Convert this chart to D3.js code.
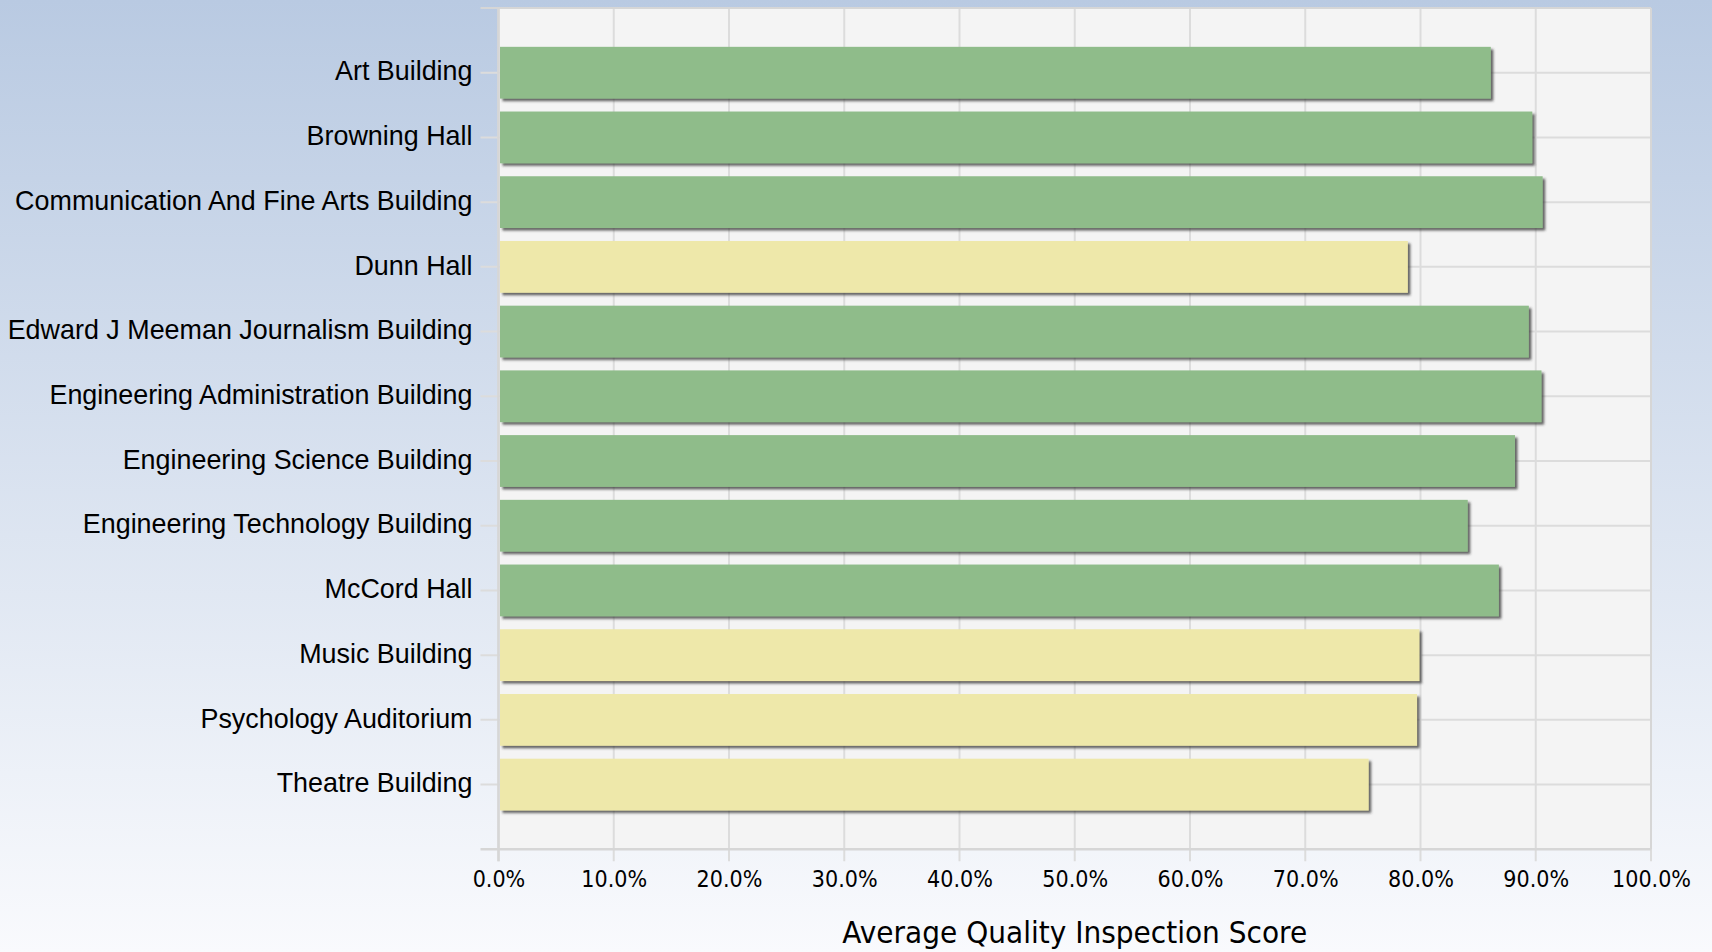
<!DOCTYPE html>
<html>
<head>
<meta charset="utf-8">
<script src="https://cdn.jsdelivr.net/npm/d3@7"></script>
<style>
  html, body { margin: 0; padding: 0; overflow: hidden; }
  svg { display: block; }
</style>
</head>
<body>
<svg id="chart" width="1712" height="952"></svg>
<script>
// ---- Data ----
const categories = [
  "Art Building",
  "Browning Hall",
  "Communication And Fine Arts Building",
  "Dunn Hall",
  "Edward J Meeman Journalism Building",
  "Engineering Administration Building",
  "Engineering Science Building",
  "Engineering Technology Building",
  "McCord Hall",
  "Music Building",
  "Psychology Auditorium",
  "Theatre Building"
];
const scores = [86.1, 89.7, 90.6, 78.9, 89.4, 90.5, 88.2, 84.1, 86.8, 79.9, 79.7, 75.5];
const ratings = ["good", "good", "good", "fair", "good", "good", "good", "good", "good", "fair", "fair", "fair"];
const xTicks = [0, 10, 20, 30, 40, 50, 60, 70, 80, 90, 100];
const axisTitle = "Average Quality Inspection Score";

// ---- Layout ----
const W = 1712, H = 952;
const plot = { left: 498.5, right: 1651, top: 8, bottom: 849.3 };
const ratingColor = d3.scaleOrdinal().domain(["good", "fair"]).range(["#8fbc8a", "#eee8aa"]);

const svg = d3.select("#chart");
const defs = svg.append("defs");
const grad = defs.append("linearGradient").attr("id", "bg").attr("x1", 0).attr("y1", 0).attr("x2", 0).attr("y2", 1);
grad.append("stop").attr("offset", "0%").attr("stop-color", "#b9cae2");
grad.append("stop").attr("offset", "100%").attr("stop-color", "#f9fafd");
const shadow = defs.append("filter").attr("id", "shadow")
  .attr("x", "-5%").attr("y", "-20%").attr("width", "110%").attr("height", "150%");
shadow.append("feDropShadow").attr("dx", 2.5).attr("dy", 2.5).attr("stdDeviation", 0.8)
  .attr("flood-color", "#333").attr("flood-opacity", 0.75);

svg.append("rect").attr("width", W).attr("height", H).attr("fill", "url(#bg)");

const x = d3.scaleLinear().domain([0, 100]).range([plot.left, plot.right]);
const y = d3.scalePoint().domain(categories).range([plot.top, plot.bottom]).padding(1);
const barH = y.step() * 0.8;

// plot background
svg.append("rect")
  .attr("x", x(0)).attr("y", plot.top)
  .attr("width", x(100) - x(0)).attr("height", plot.bottom - plot.top)
  .attr("fill", "#f4f4f4");

const gridColor = "#dcdcdc";
// vertical grid
svg.append("g").selectAll("line").data(xTicks).join("line")
  .attr("x1", d => x(d)).attr("x2", d => x(d))
  .attr("y1", plot.top).attr("y2", plot.bottom + 12)
  .attr("stroke", gridColor).attr("stroke-width", 2);
// horizontal grid (through category centers) + left stubs
svg.append("g").selectAll("line").data(categories).join("line")
  .attr("x1", x(0) - 18).attr("x2", x(100))
  .attr("y1", d => y(d)).attr("y2", d => y(d))
  .attr("stroke", gridColor).attr("stroke-width", 2);
// frame lines
svg.append("line").attr("x1", x(0) - 18).attr("x2", x(100)).attr("y1", plot.top).attr("y2", plot.top)
  .attr("stroke", "#d6d6d6").attr("stroke-width", 2);
svg.append("line").attr("x1", x(0) - 18).attr("x2", x(100)).attr("y1", plot.bottom).attr("y2", plot.bottom)
  .attr("stroke", "#d6d6d6").attr("stroke-width", 2.5);
svg.append("line").attr("x1", x(100)).attr("x2", x(100)).attr("y1", plot.top).attr("y2", plot.bottom)
  .attr("stroke", "#d6d6d6").attr("stroke-width", 2);

// bars
svg.append("g").selectAll("rect").data(categories).join("rect")
  .attr("x", x(0) + 1.5)
  .attr("y", d => y(d) - barH / 2)
  .attr("width", (d, i) => x(scores[i]) - x(0) - 1.5)
  .attr("height", barH)
  .attr("fill", (d, i) => ratingColor(ratings[i]))
  .attr("filter", "url(#shadow)");

// left axis line
svg.append("line").attr("x1", x(0)).attr("x2", x(0)).attr("y1", plot.top).attr("y2", plot.bottom + 12)
  .attr("stroke", "#d6d6d6").attr("stroke-width", 2.5);

// y axis labels
const yAxis = d3.axisLeft(y).tickSize(18).tickPadding(8);
const gy = svg.append("g").attr("transform", `translate(${x(0)},0)`).call(yAxis);
gy.select(".domain").remove();
gy.selectAll(".tick line").remove();
gy.selectAll(".tick text")
  .attr("font-family", "'Liberation Sans', Arial, sans-serif")
  .attr("font-size", 26.9).attr("fill", "#000").attr("dy", "0.27em");

// x axis labels
const xAxis = d3.axisBottom(x).tickValues(xTicks).tickSize(12).tickPadding(9.5)
  .tickFormat(d => d.toFixed(1) + "%");
const gx = svg.append("g").attr("transform", `translate(0,${plot.bottom})`).call(xAxis);
gx.select(".domain").remove();
gx.selectAll(".tick line").remove();
gx.selectAll(".tick text")
  .attr("font-family", "'DejaVu Sans', Verdana, sans-serif")
  .attr("font-size", 23).attr("fill", "#000")
  .each(function () {
    const len = this.getComputedTextLength();
    d3.select(this).attr("textLength", len * 0.9).attr("lengthAdjust", "spacingAndGlyphs");
  });

// axis title
const t = svg.append("text")
  .attr("x", (x(0) + x(100)) / 2).attr("y", 943)
  .attr("text-anchor", "middle")
  .attr("font-family", "'DejaVu Sans', Verdana, sans-serif")
  .attr("font-size", 30).attr("fill", "#000")
  .text(axisTitle);
t.attr("textLength", 465).attr("lengthAdjust", "spacingAndGlyphs");
</script>
</body>
</html>
